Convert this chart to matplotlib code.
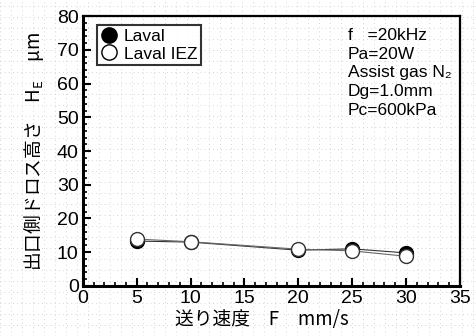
import matplotlib
matplotlib.use("Agg")
import matplotlib.pyplot as plt
from matplotlib.ticker import MultipleLocator
from matplotlib.lines import Line2D

speed = [5, 10, 20, 25, 30]
laval = [13.3, 13.0, 10.6, 11.0, 9.8]
laval_iez = [13.9, 13.1, 10.9, 10.4, 8.8]
xticks = [0, 5, 10, 15, 20, 25, 30, 35]
yticks = [0, 10, 20, 30, 40, 50, 60, 70, 80]

plt.rcParams['font.family'] = ['Liberation Sans', 'Noto Sans CJK JP', 'DejaVu Sans']

fig = plt.figure(figsize=(4.76, 3.36), dpi=100)
# background dotted graph paper
bg = fig.add_axes([0, 0, 1, 1], zorder=0)
bg.set_xlim(0, 476)
bg.set_ylim(0, 336)
bg.set_xticks(range(0, 477, 11))
bg.set_yticks(range(0, 337, 11))
bg.grid(True, color='#c8c8c8', linestyle=(0, (1, 4)), linewidth=0.6)
bg.tick_params(length=0, labelbottom=False, labelleft=False)
for s in bg.spines.values():
    s.set_visible(False)

ax = fig.add_axes([0.174, 0.149, 0.792, 0.803], zorder=1)
ax.patch.set_alpha(0)
ax.plot(speed, laval, color='#333333', linewidth=0.8, marker='o', markersize=10,
        markerfacecolor='black', markeredgecolor='black', zorder=3)
ax.plot(speed, laval_iez, color='#666666', linewidth=0.8, marker='o', markersize=10,
        markerfacecolor='white', markeredgecolor='#333333', zorder=4)

ax.set_xlim(0, 35)
ax.set_ylim(0, 80)
ax.set_xticks(xticks)
ax.set_yticks(yticks)
ax.xaxis.set_minor_locator(MultipleLocator(1))
ax.yaxis.set_minor_locator(MultipleLocator(2))
ax.tick_params(which='major', direction='in', length=6, width=1.5, labelsize=14, pad=3)
ax.tick_params(which='minor', direction='in', length=3, width=1.2)
for s in ax.spines.values():
    s.set_linewidth(1.6)
ax.spines['left'].set_linewidth(2.2)
ax.spines['bottom'].set_linewidth(2.2)

ax.set_xlabel('送り速度　F　mm/s', fontsize=13.5, family=['Noto Sans CJK JP'], labelpad=1)
ax.xaxis.set_label_coords(0.475, -0.085)
ax.set_ylabel('出口側ドロス高さ　H$_\\mathregular{E}$　μm', fontsize=13.5,
              family=['Noto Sans CJK JP', 'DejaVu Sans'], labelpad=8)

handles = [
    Line2D([], [], linestyle='none', marker='o', markersize=11,
           markerfacecolor='black', markeredgecolor='black', label='Laval'),
    Line2D([], [], linestyle='none', marker='o', markersize=11,
           markerfacecolor='white', markeredgecolor='black', label='Laval IEZ'),
]
leg = ax.legend(handles=handles, loc='upper left', fontsize=12.5, frameon=True,
                fancybox=False, edgecolor='black', borderpad=0.2,
                handletextpad=0.35, borderaxespad=0.0, labelspacing=0.15,
                handlelength=1.0, bbox_to_anchor=(14 / 377, 1 - 9 / 270))
leg.get_frame().set_linewidth(1.5)

ax.text(0.703, 0.955, 'f   =20kHz\nPa=20W\nAssist gas N\u2082\nDg=1.0mm\nPc=600kPa',
        transform=ax.transAxes, fontsize=12.5, va='top', ha='left', linespacing=1.3)

fig.savefig('out.png', dpi=100)
